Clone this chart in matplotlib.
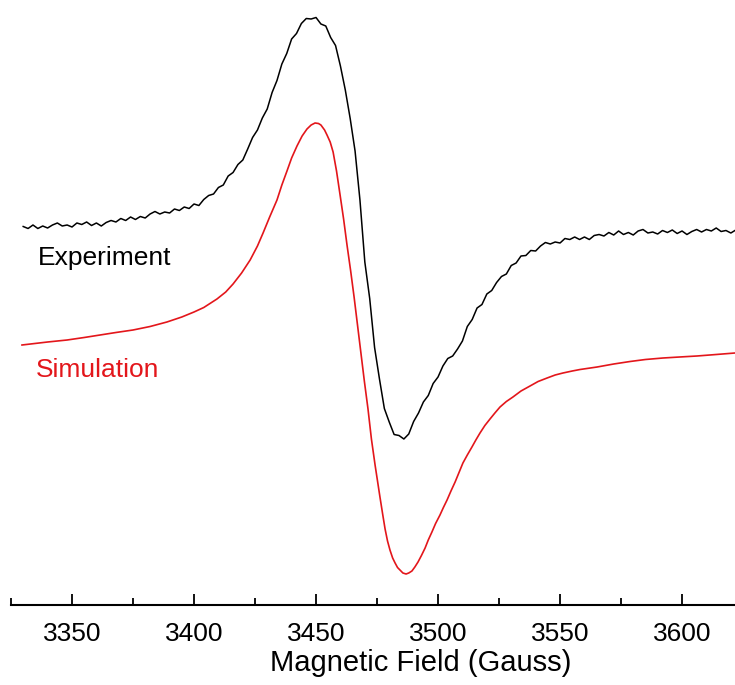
import numpy as np
import matplotlib
matplotlib.use("Agg")
import matplotlib.pyplot as plt
from matplotlib.ticker import MultipleLocator

plt.rcParams['font.family'] = ['Liberation Sans', 'DejaVu Sans']

# ---------------- data (arbitrary intensity units) ----------------
# Experimental spectrum: field sweep every 2 G from 3330 to 3622 G
exp_field = np.arange(3330, 3623, 2)
exp_signal = [
    378.5, 376.5, 380, 376.5, 379, 377, 380, 382, 379, 380,          # 3330-3348
    378, 382, 380.5, 383, 379.5, 382, 379, 382.5, 384.5, 383,        # 3350-3368
    386.5, 384.5, 388, 385.5, 388.5, 387, 391, 393.5, 391, 393,      # 3370-3388
    392, 396, 394.5, 398, 396.5, 401, 399.5, 405.5, 409.5, 411,      # 3390-3408
    417.5, 420, 429, 432.5, 440.5, 445, 456, 467.5, 475, 487,        # 3410-3428
    496, 512.5, 524.5, 541, 551.5, 566, 571.5, 581.5, 586.5, 586,    # 3430-3448
    587.5, 581, 579, 567.5, 559.5, 539, 515, 486.5, 454, 405,        # 3450-3468
    343, 306.5, 257.5, 226, 196.5, 183, 170.5, 169.5, 166, 171,      # 3470-3488
    183.5, 192, 203, 209.5, 221.5, 228, 239, 246.5, 249, 256,        # 3490-3508
    264, 278.5, 285.5, 297, 300.5, 311, 314.5, 322.5, 328.5, 331,    # 3510-3528
    339.5, 342, 349, 349.5, 354.5, 354, 359, 362.5, 361, 363,        # 3530-3548
    362, 366.5, 365.5, 368, 365.5, 368, 365.5, 369.5, 370.5, 369,    # 3550-3568
    372.5, 370, 374, 370.5, 372.5, 370, 374, 375.5, 372, 373,        # 3570-3588
    371, 374.5, 372.5, 375, 371.5, 374, 370.5, 373.5, 375.5, 373,    # 3590-3608
    375.5, 374, 377, 373.5, 374.5, 372, 375,                         # 3610-3622
]

# Simulated spectrum
sim_field = [3329.5, 3340.0, 3348.0, 3355.0, 3361.5, 3368.0, 3375.0, 3382.0, 3388.9,
             3395.0, 3400.0, 3404.0, 3409.4, 3413.0, 3416.0, 3419.5, 3423.0, 3426.0,
             3428.3, 3431.0, 3434.0, 3436.0, 3438.1, 3440.0, 3442.2, 3444.3, 3446.3,
             3448.0, 3449.6, 3451.0, 3452.0, 3453.5, 3454.5, 3455.8, 3457.0, 3458.4,
             3459.8, 3461.3, 3462.7, 3464.2, 3465.6, 3467.0, 3468.4, 3469.8, 3471.3,
             3472.7, 3474.2, 3475.2, 3476.2, 3477.3, 3478.3, 3479.3, 3480.3, 3481.4,
             3482.4, 3483.4, 3484.4, 3485.6, 3486.9, 3488.0, 3489.3, 3490.5, 3491.8,
             3493.2, 3494.7, 3496.0, 3497.5, 3499.0, 3500.8, 3502.2, 3503.7, 3505.3,
             3507.0, 3508.6, 3510.2, 3512.0, 3513.9, 3515.5, 3517.2, 3519.2, 3521.3,
             3523.3, 3525.4, 3528.0, 3530.7, 3534.0, 3537.7, 3541.0, 3544.7, 3548.0,
             3551.2, 3555.0, 3558.2, 3565.2, 3572.0, 3578.7, 3585.0, 3592.2, 3599.0,
             3606.1, 3614.0, 3621.7]
sim_signal = [260, 263, 265, 267.5, 270, 272.5, 275, 278.5, 283,
              288, 293, 297.5, 306, 313, 321, 332, 345, 359,
              372, 388, 405, 420, 434, 447, 459, 469, 476,
              480, 482, 481.5, 480, 475, 470, 463, 453, 434,
              411, 386, 360, 334, 308, 280, 252, 224, 196,
              166, 140, 124, 108, 91, 76, 64, 55, 47,
              42, 37.5, 35, 32, 31, 32, 34, 38, 43,
              49.5, 57, 65, 73, 81.5, 90, 97.5, 105, 114,
              123, 132.5, 142, 150, 158, 165, 172, 179.5, 186,
              192, 198, 203.5, 208, 214, 219, 223.5, 227, 230,
              232, 234, 235.5, 238, 241, 243.5, 245.5, 247, 248,
              249, 250.5, 252]

series_labels = ["Experiment", "Simulation"]
series_colors = ["#000000", "#e3161b"]
x_label = "Magnetic Field (Gauss)"

assert len(exp_field) == len(exp_signal)
assert len(sim_field) == len(sim_signal)

# ---------------- figure ----------------
W, H = 735, 685
fig = plt.figure(figsize=(W / 100, H / 100), dpi=100)
ax = fig.add_axes([11 / W, (H - 605) / H, (W - 11) / W, 605 / H])

ax.plot(exp_field, exp_signal, color=series_colors[0], lw=1.1)
ax.plot(sim_field, sim_signal, color=series_colors[1], lw=1.2)

ax.set_xlim(3325, 3621.7)
ax.set_ylim(0, 605)

for s in ["left", "right", "top"]:
    ax.spines[s].set_visible(False)
ax.spines["bottom"].set_linewidth(1.5)
ax.set_yticks([])
ax.xaxis.set_major_locator(MultipleLocator(50))
ax.xaxis.set_minor_locator(MultipleLocator(25))
ax.tick_params(axis="x", which="major", direction="in", length=8, width=1.3,
               labelsize=19, pad=12)
ax.tick_params(axis="x", which="minor", direction="in", length=5, width=1.3)
ax.set_xlabel(x_label, fontsize=21, labelpad=4)
ax.xaxis.set_label_coords((421 - 11) / (W - 11), -0.072)

ax.text(3336.1, 340, series_labels[0], color=series_colors[0], fontsize=19,
        ha="left", va="baseline")
ax.text(3335.3, 228, series_labels[1], color=series_colors[1], fontsize=19,
        ha="left", va="baseline")

fig.savefig("out.png", dpi=100)
